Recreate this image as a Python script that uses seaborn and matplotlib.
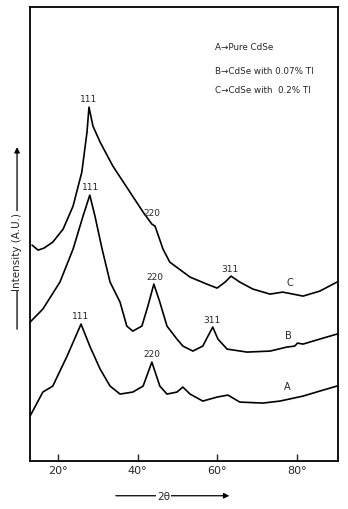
import matplotlib
matplotlib.use("Agg")
import matplotlib.pyplot as plt
import numpy as np
import pandas as pd
import seaborn as sns

# XRD patterns (2theta in degrees, intensity in arbitrary units)
two_theta_A = [13.0, 16.2, 18.7, 22.3, 25.8, 28.0, 30.6, 33.1, 35.6, 38.8, 41.4,
               43.6, 45.6, 47.4, 49.9, 51.4, 53.2, 56.4, 60.0, 62.7, 65.7, 71.5,
               75.8, 81.6, 85.8, 90.1]
intensity_A = [45, 69, 75, 105, 137, 115, 92, 75, 67, 69, 75,
               99, 75, 67, 69, 74, 67, 60, 64, 66, 59, 58,
               60, 65, 70, 75]

two_theta_B = [13.0, 16.2, 20.5, 23.8, 26.3, 28.0, 29.3, 31.1, 33.1, 35.6, 37.3,
               38.8, 41.1, 42.6, 44.1, 45.6, 47.4, 49.9, 51.4, 53.9, 56.4, 57.7,
               58.9, 60.2, 62.5, 67.5, 73.3, 77.5, 79.5, 80.2, 81.6, 85.8, 90.1]
intensity_B = [139, 152, 179, 212, 245, 266, 245, 212, 179, 159, 135,
               130, 135, 155, 177, 159, 135, 122, 115, 110, 115, 125,
               134, 122, 112, 109, 110, 114, 115, 118, 117, 122, 127]

two_theta_C = [13.5, 15.0, 16.5, 18.7, 21.3, 23.8, 26.0, 27.3, 27.8, 28.8, 30.6,
               33.8, 38.1, 41.4, 43.6, 44.4, 46.4, 48.1, 53.2, 57.4, 60.0, 62.0,
               63.5, 65.7, 69.0, 73.3, 76.5, 81.6, 85.8, 90.1]
intensity_C = [216, 211, 213, 219, 232, 255, 289, 329, 354, 335, 319,
               295, 269, 249, 237, 235, 212, 199, 184, 177, 173, 179,
               185, 179, 172, 167, 169, 165, 170, 179]

x_ticks = [20, 40, 60, 80]
x_tick_labels = ["20°", "40°", "60°", "80°"]

legend_lines = ["A\u2192Pure CdSe", "B\u2192CdSe with 0.07% Tl", "C\u2192CdSe with  0.2% Tl"]

# (text, 2theta, intensity) for the reflection labels
peak_labels = [("111", 27.6, 358), ("220", 43.6, 244), ("311", 63.2, 188),
               ("111", 28.2, 270), ("220", 44.3, 180), ("311", 58.8, 137),
               ("111", 25.8, 141), ("220", 43.6, 103)]
curve_labels = [("C", 78.3, 174), ("B", 78.0, 121), ("A", 77.5, 70)]

sns.set_style("white")
plt.rcParams['font.family'] = ['Liberation Sans Narrow', 'DejaVu Sans']

fig = plt.figure(figsize=(3.48, 5.10), dpi=100)
ax = fig.add_axes([0.086, 0.094, 0.885, 0.890])

for tt, inten in [(two_theta_A, intensity_A), (two_theta_B, intensity_B),
                  (two_theta_C, intensity_C)]:
    df = pd.DataFrame({"two_theta": tt, "intensity": inten})
    sns.lineplot(data=df, x="two_theta", y="intensity", ax=ax, color="black",
                 linewidth=1.2, sort=False, estimator=None)

for txt, xx, yy in peak_labels:
    ax.text(xx, yy, txt, ha="center", va="bottom", fontsize=6.5)
for txt, xx, yy in curve_labels:
    ax.text(xx, yy, txt, ha="center", va="bottom", fontsize=7)

for i, line in enumerate(legend_lines):
    ax.text(59.4, [415, 391, 372][i], line, ha="left", va="center", fontsize=6.3)

ax.set_xlim(12.96, 90.35)
ax.set_ylim(0, 454)
ax.set_xticks(x_ticks)
ax.set_xticklabels(x_tick_labels, fontsize=8)
ax.set_yticks([])
ax.tick_params(axis="x", direction="in", length=5, width=1, pad=3, bottom=True)
ax.set_xlabel("")
ax.set_ylabel("")
for sp in ax.spines.values():
    sp.set_visible(True)
    sp.set_color("black")
    sp.set_linewidth(1.3)

# axis captions drawn as arrows with text in the middle
fig.patches.append(matplotlib.patches.FancyArrowPatch(
    (0.049, 0.347), (0.049, 0.715), transform=fig.transFigure,
    arrowstyle="-|>", mutation_scale=8, color="black", lw=0.9))
fig.text(0.049, 0.506, "Intensity (A.U.)", rotation=90, ha="center", va="center",
         fontsize=7.5, bbox=dict(facecolor="white", edgecolor="none", pad=1))

fig.patches.append(matplotlib.patches.FancyArrowPatch(
    (0.325, 0.026), (0.667, 0.026), transform=fig.transFigure,
    arrowstyle="-|>", mutation_scale=8, color="black", lw=0.9))
fig.text(0.47, 0.026, "2\u03b8", ha="center", va="center", fontsize=7.5,
         bbox=dict(facecolor="white", edgecolor="none", pad=1))

fig.savefig("out.png", dpi=100)
